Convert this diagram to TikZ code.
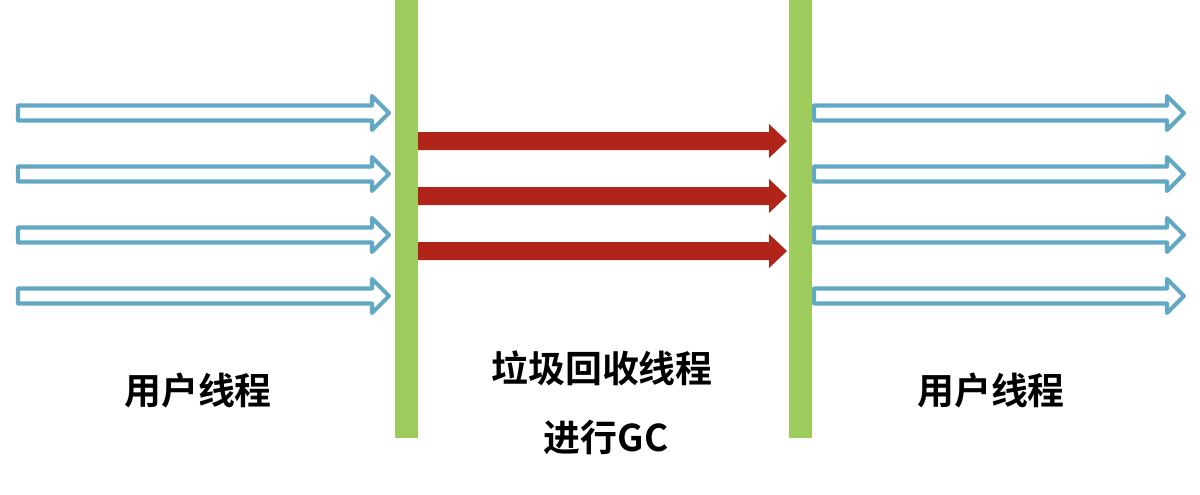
\documentclass[tikz,border=0pt]{standalone}
\usepackage{fontspec}
\newfontfamily\cjk{Noto Sans CJK SC}[BoldFont={Noto Sans CJK SC Bold}]
\usepackage{tikz}
\definecolor{pauseGreen}{HTML}{9DCC5C}
\definecolor{userBlue}{HTML}{62A8C4}
\definecolor{gcRed}{HTML}{B0241A}

\begin{document}
\begin{tikzpicture}[x=0.02cm,y=-0.02cm,
  userarrow/.style={draw=userBlue,line width=2.3pt,fill=white,line join=round},
  gcarrow/.style={fill=gcRed,draw=none},
  pausebar/.style={fill=pauseGreen,draw=none},
  caption/.style={font=\cjk\bfseries\fontsize{21}{25}\selectfont,inner sep=0pt}]
  \useasboundingbox (0,0) rectangle (1200,494);
  % user threads before and after the pause
  \foreach \y in {113,174,235,296}{
    \draw[userarrow] (18,\y-7.5) -- (372,\y-7.5) -- (372,\y-17) -- (389,\y) -- (372,\y+17) -- (372,\y+7.5) -- (18,\y+7.5) -- cycle;
    \draw[userarrow] (814,\y-7.5) -- (1167,\y-7.5) -- (1167,\y-17) -- (1184,\y) -- (1167,\y+17) -- (1167,\y+7.5) -- (814,\y+7.5) -- cycle;
  }
  % gc threads
  \foreach \y in {141,196,251}{
    \fill[gcarrow] (412,\y-9) -- (769,\y-9) -- (769,\y-17) -- (787,\y) -- (769,\y+17) -- (769,\y+9) -- (412,\y+9) -- cycle;
  }
  % safepoints
  \fill[pausebar] (395,0) rectangle (418,438);
  \fill[pausebar] (789,0) rectangle (812,438);
  \node[caption] (userL) at (198,391) {用户线程};
  \node[caption] (gcName) at (602,368) {垃圾回收线程};
  \node[caption] (gcRun) at (606,437) {进行GC};
  \node[caption] (userR) at (991,391) {用户线程};
\end{tikzpicture}
\end{document}
